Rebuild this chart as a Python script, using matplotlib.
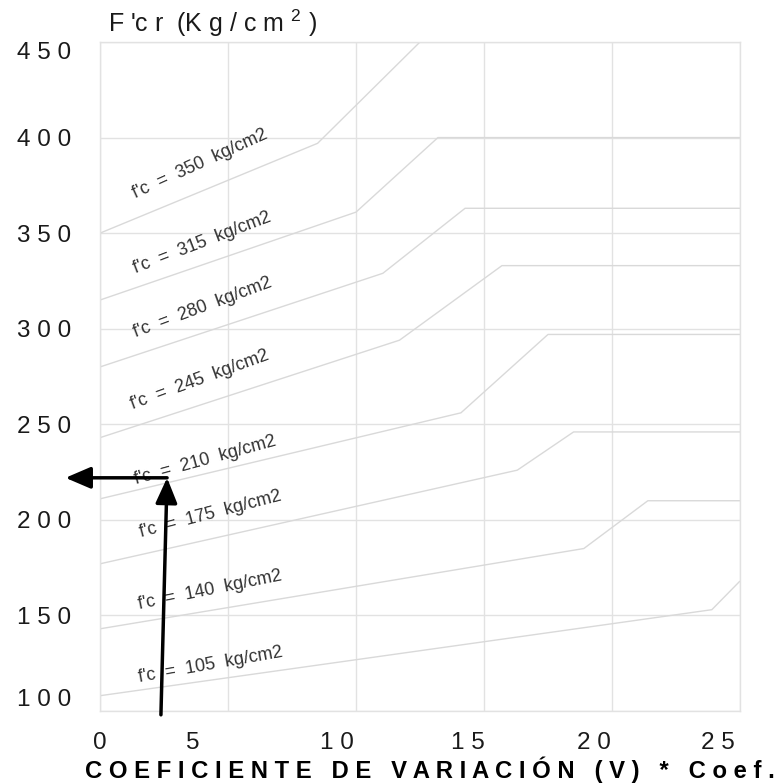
import numpy as np
import matplotlib.pyplot as plt
import matplotlib.transforms as mtrans

plt.rcParams['font.family'] = ['Liberation Sans', 'DejaVu Sans']
plt.rcParams['mathtext.default'] = 'regular'

# curves f'c -> f'cr (x = coef. de variacion)
strengths = [350, 315, 280, 245, 210, 175, 140, 105]
curve_x = [
    [0, 8.5, 12.5, 25],
    [0, 10.0, 13.2, 25],
    [0, 11.05, 14.26, 25],
    [0, 11.7, 15.7, 25],
    [0, 14.1, 17.5, 25],
    [0, 16.3, 18.5, 25],
    [0, 18.9, 21.4, 25],
    [0, 23.9, 25],
]
curve_y = [
    [350, 397, 450, 450],
    [315, 361, 400, 400],
    [280, 329, 363, 363],
    [243, 294, 333, 333],
    [211, 256, 297, 297],
    [177, 226, 246, 246],
    [143, 185, 210, 210],
    [108, 153, 168],
]
curve_labels = ["f'c  =  %d  kg/cm2" % s for s in strengths]

x_ticks = [0, 5, 10, 15, 20, 25]
y_ticks = [100, 150, 200, 250, 300, 350, 400, 450]

# example reading (arrows)
arrow_x = [2.38, 2.62, -1.35]
arrow_y = [98, 222, 222]


def spaced(s, sep=' '):
    return sep.join(s)


fig = plt.figure(figsize=(7.77, 7.84), dpi=100)
ax = fig.add_axes([100 / 777, 1 - 711 / 784, 640 / 777, 669 / 784])
ax.set_xlim(0, 25)
ax.set_ylim(100, 450)

grid_c = '#e2e2e2'
for sp in ax.spines.values():
    sp.set_color(grid_c)
    sp.set_linewidth(1)
ax.grid(True, color=grid_c, lw=1)
ax.set_axisbelow(True)

for xs, ys in zip(curve_x, curve_y):
    ax.plot(xs, ys, color='#d9d9d9', lw=1, solid_capstyle='butt')

# labels above each curve, rotated with the first segment
fig.canvas.draw()
label_xy = [(3.9, 386), (4.0, 345), (4.0, 311), (3.9, 273),
            (4.1, 231), (4.3, 203), (4.3, 163), (4.3, 124)]
for xs, ys, lab, (lx, ly) in zip(curve_x, curve_y, curve_labels, label_xy):
    p0 = ax.transData.transform((xs[0], ys[0]))
    p1 = ax.transData.transform((xs[1], ys[1]))
    ang = np.degrees(np.arctan2(p1[1] - p0[1], p1[0] - p0[0])) + 2
    ax.text(lx, ly, lab, rotation=ang, rotation_mode='anchor',
            ha='center', va='center', fontsize=13, color='#333333')

ax.set_xticks(x_ticks)
ax.set_yticks(y_ticks)
ax.set_xticklabels([spaced(str(v)) for v in x_ticks], fontsize=17.5, color='#1a1a1a')
ax.set_yticklabels([spaced(str(v)) for v in y_ticks], fontsize=17.5, color='#1a1a1a')
ax.tick_params(axis='both', length=0)
ax.tick_params(axis='x', pad=15)
ax.tick_params(axis='y', pad=21)

# x tick labels sit a bit left of their grid lines in the original
x_shift_px = [0, -35, -19, -16, -18, -22]
for t, dx in zip(ax.get_xticklabels(), x_shift_px):
    t.set_transform(t.get_transform() + mtrans.ScaledTranslation(dx / 100, 0, fig.dpi_scale_trans))
yl = ax.get_yticklabels()
yl[0].set_va('bottom')
yl[-1].set_va('top')

# arrows
for i in range(2):
    ax.annotate('', xy=(arrow_x[i + 1], arrow_y[i + 1]), xytext=(arrow_x[i], arrow_y[i]),
                arrowprops=dict(arrowstyle='-|>,head_length=0.7,head_width=0.3', lw=2.5,
                                color='black', mutation_scale=22, shrinkA=0, shrinkB=0),
                annotation_clip=False)

# axis titles
fig.text(108 / 777, 1 - 23 / 784, "F 'c r  (K g / c m $^{ 2}$ )",
         fontsize=18, ha='left', va='center', color='#1a1a1a')
xlab = "   ".join(spaced(w) for w in ["COEFICIENTE", "DE", "VARIACIÓN", "(V)", "*", "Coef."])
fig.text(430 / 777, 1 - 770 / 784, xlab, fontsize=17.2, fontweight='bold',
         ha='center', va='center', color='black')

fig.savefig('out.png', dpi=100)
